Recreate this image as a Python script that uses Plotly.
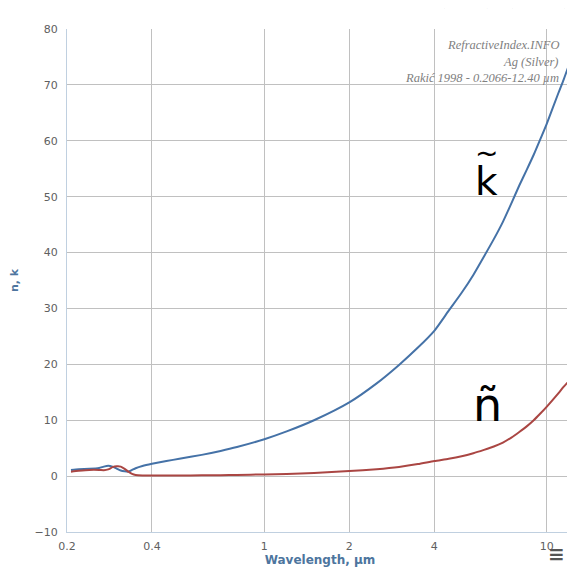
import math
import plotly.graph_objects as go

wavelength = [0.2066, 0.22, 0.24, 0.26, 0.27, 0.28, 0.29, 0.30, 0.31, 0.32, 0.33, 0.34, 0.35,
              0.37, 0.40, 0.45, 0.50, 0.60, 0.70, 0.80, 1.0, 1.2, 1.5, 2.0, 2.5, 3.0, 3.5, 4.0,
              4.5, 5.0, 5.5, 6.0, 6.5, 7.0, 7.5, 8.0, 8.5, 9.0, 9.5, 10.0, 11.0, 11.5, 12.4]
k_values = [1.1, 1.25, 1.3, 1.45, 1.7, 1.85, 1.7, 1.35, 1.0, 0.85, 0.8, 1.1, 1.4,
            1.8, 2.2, 2.7, 3.1, 3.8, 4.5, 5.2, 6.6, 8.0, 10.0, 13.2, 16.6, 19.9, 23.0, 26.0,
            29.6, 32.8, 36.0, 39.3, 42.4, 45.5, 48.8, 52.0, 54.8, 57.5, 60.3, 63.0, 68.5, 71.0, 75.6]
n_values = [0.8, 0.95, 1.1, 1.1, 1.05, 1.2, 1.6, 1.75, 1.7, 1.3, 0.8, 0.4, 0.2,
            0.12, 0.1, 0.1, 0.12, 0.14, 0.17, 0.22, 0.3, 0.4, 0.55, 0.9, 1.25, 1.65, 2.15, 2.7,
            3.1, 3.55, 4.1, 4.7, 5.3, 6.0, 6.9, 7.9, 8.9, 10.0, 11.2, 12.4, 14.8, 16.0, 17.8]

x_ticks = [0.2, 0.4, 1, 2, 4, 10]
x_tick_labels = ["0.2", "0.4", "1", "2", "4", "10"]
y_ticks = [-10, 0, 10, 20, 30, 40, 50, 60, 70, 80]
y_tick_labels = ["\u221210", "0", "10", "20", "30", "40", "50", "60", "70", "80"]

fig = go.Figure()
fig.add_trace(go.Scatter(x=wavelength, y=k_values, mode="lines", name="k",
                         line=dict(color="#4572A7", width=2, shape="spline", smoothing=0.6)))
fig.add_trace(go.Scatter(x=wavelength, y=n_values, mode="lines", name="n",
                         line=dict(color="#AA4643", width=2, shape="spline", smoothing=0.6)))

tick_font = dict(family="DejaVu Sans", size=11, color="#606060")
title_font = dict(family="DejaVu Sans", size=11, color="#4D759E")

# page body has an 8px margin; figure sized so the page does not scroll
fig.update_layout(
    width=567, height=560,
    margin=dict(l=59, r=2, t=21, b=36),
    paper_bgcolor="white", plot_bgcolor="white",
    showlegend=False,
    xaxis=dict(type="log", range=[math.log10(0.2), math.log10(12.4)],
               tickvals=x_ticks, ticktext=x_tick_labels, tickfont=tick_font,
               showgrid=True, gridcolor="#C0C0C0", gridwidth=1,
               showline=True, linecolor="#C0D0E0", linewidth=1,
               ticks="outside", ticklen=4, tickcolor="rgba(0,0,0,0)",
               zeroline=False,
               title=dict(text="<b>Wavelength, µm</b>",
                          font=dict(family="DejaVu Sans", size=12, color="#4D759E"),
                          standoff=2)),
    yaxis=dict(range=[-10, 80], tickvals=y_ticks, ticktext=y_tick_labels, tickfont=tick_font,
               showgrid=True, gridcolor="#C0C0C0", gridwidth=1,
               showline=True, linecolor="#C0D0E0", linewidth=1,
               ticks="outside", ticklen=6, tickcolor="rgba(0,0,0,0)",
               zeroline=False,
               title=dict(text="<b>n, k</b>", font=title_font, standoff=16)),
)

credit_font = dict(family="Liberation Serif", size=12.5, color="#808080")
credit_y = [0.968, 0.934, 0.903]
for txt, yy in zip(["<i>RefractiveIndex.INFO</i>", "<i>Ag (Silver)</i>",
                    "<i>Rakić 1998 - 0.2066-12.40 µm</i>"], credit_y):
    fig.add_annotation(xref="paper", yref="paper", x=0.976, y=yy,
                       xanchor="right", yanchor="middle", text=txt, showarrow=False,
                       font=credit_font)

fig.add_annotation(xref="paper", yref="paper", x=0.830, y=0.696, text="k",
                   showarrow=False, xanchor="center", yanchor="middle",
                   font=dict(family="DejaVu Sans", size=39, color="black"))
fig.add_annotation(xref="paper", yref="paper", x=0.830, y=0.752, text="~",
                   showarrow=False, xanchor="center", yanchor="middle",
                   font=dict(family="DejaVu Sans", size=28, color="black"))
fig.add_annotation(xref="paper", yref="paper", x=0.832, y=0.253, text="ñ",
                   showarrow=False, xanchor="center", yanchor="middle",
                   font=dict(family="DejaVu Sans", size=46, color="black"))

fig.add_annotation(xref="paper", yref="paper", x=0.53, y=1.035,
                   text="Dispersion vs wavelength λ (µm) (opts)",
                   showarrow=False, xanchor="center", yanchor="bottom",
                   font=dict(family="Liberation Serif", size=30, color="#222222"))

fig.add_annotation(xref="paper", yref="paper", x=0.968, y=-0.044, text="<b>≡</b>",
                   showarrow=False, xanchor="center", yanchor="middle",
                   font=dict(family="DejaVu Sans", size=20, color="#555555"))

fig.write_html("out.html")
